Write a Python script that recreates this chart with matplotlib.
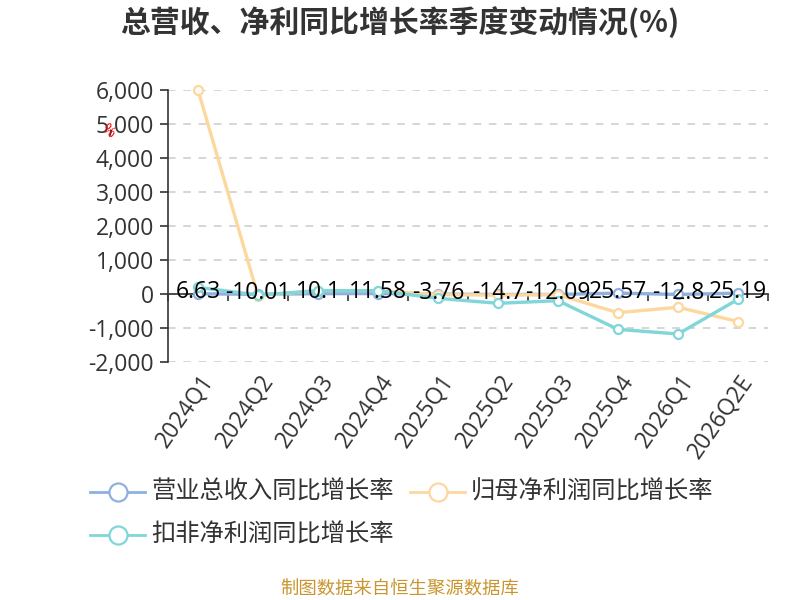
import matplotlib
matplotlib.use('Agg')
import matplotlib.pyplot as plt
from matplotlib.lines import Line2D
from matplotlib.ticker import FuncFormatter, FixedLocator
import matplotlib.transforms as mtransforms

plt.rcParams['font.family'] = ['Noto Sans CJK SC', 'DejaVu Sans']
plt.rcParams['axes.unicode_minus'] = False
NUM_FONT = ['Open Sans', 'DejaVu Sans']

quarters = ['2024Q1', '2024Q2', '2024Q3', '2024Q4', '2025Q1',
            '2025Q2', '2025Q3', '2025Q4', '2026Q1', '2026Q2E']
revenue = [6.63, -10.01, 10.1, 11.58, -3.76, -14.7, -12.09, 25.57, -12.8, 25.19]
net_profit = [6000, -50, 100, 100, -20, -30, -20, -550, -390, -810]
deducted_profit = [197, -30, 97, 97, -127, -274, -197, -1040, -1176, -157]
rev_labels = ['6.63', '-10.01', '10.1', '11.58', '-3.76', '-14.7', '-12.09', '25.57', '-12.8', '25.19']

names = ['营业总收入同比增长率', '归母净利润同比增长率', '扣非净利润同比增长率']
colors = ['#8fb0e0', '#fdd89e', '#80d6d8']

fig = plt.figure(figsize=(8, 6), dpi=100)
ax = fig.add_axes([0.21, 1 - 362 / 600, 0.75, 272 / 600])

x = list(range(len(quarters)))
for vals, c in zip([revenue, net_profit, deducted_profit], colors):
    ax.plot(x, vals, color=c, lw=2.4, marker='o', markersize=6.5,
            markerfacecolor='white', markeredgecolor=c, markeredgewidth=1.6,
            zorder=3, clip_on=False)

# 数据标签
for i, lab in enumerate(rev_labels):
    ax.annotate(lab, (x[i], revenue[i]), xytext=(0, 1), textcoords='offset points',
                ha='center', va='center', fontsize=16.5, color='black', zorder=5,
                family=NUM_FONT)

ax.set_xlim(-0.5, len(quarters) - 0.5)
ax.set_ylim(-2000, 6000)
ax.yaxis.set_major_locator(FixedLocator(range(-2000, 6001, 1000)))
ax.yaxis.set_major_formatter(FuncFormatter(lambda v, p: f'{int(v):,}'))
ax.grid(axis='y', color='#cccccc', ls=(0, (5, 5)), lw=1.1)
ax.set_axisbelow(True)

for s in ['top', 'right']:
    ax.spines[s].set_visible(False)
ax.spines['left'].set_color('#333333')
ax.spines['left'].set_linewidth(1.2)
ax.spines['bottom'].set_position(('data', 0))
ax.spines['bottom'].set_color('#333333')
ax.spines['bottom'].set_linewidth(1.2)
ax.tick_params(axis='y', length=6, width=1.2, color='#333333', labelsize=16.5,
               labelcolor='#333333', pad=4)
for t in ax.get_yticklabels():
    t.set_family(NUM_FONT)
ax.set_xticks([i - 0.5 for i in range(len(quarters) + 1)])
ax.set_xticklabels([])
ax.tick_params(axis='x', length=5, width=1.2, color='#333333', direction='out')

# x轴标签放在底部
trans = mtransforms.blended_transform_factory(ax.transData, ax.transAxes)
for i, q in enumerate(quarters):
    ax.text(i + 0.02, -0.03, q, transform=trans, rotation=55, ha='right', va='top',
            rotation_mode='anchor', fontsize=16.5, color='#333333', family=NUM_FONT)

ax.text(-0.1, 0.85, '%', transform=ax.transAxes, color='red', fontsize=10,
        rotation=-40, ha='center', va='center')

fig.text(0.5, 1 - 22 / 600, '总营收、净利同比增长率季度变动情况(%)', ha='center', va='center',
         fontsize=21.5, fontweight='bold', color='#333333')

# 图例
leg_pos = [(90, 492), (410, 492), (90, 535)]
for (px, py), c, n in zip(leg_pos, colors, names):
    fx0, fx1, fy = px / 800, (px + 55) / 800, 1 - py / 600
    fig.add_artist(Line2D([fx0, fx1], [fy, fy], color=c, lw=2,
                          transform=fig.transFigure))
    fig.add_artist(Line2D([(fx0 + fx1) / 2], [fy], marker='o', markersize=13,
                          markerfacecolor='white', markeredgecolor=c,
                          markeredgewidth=1.6, transform=fig.transFigure))
    fig.text((px + 61) / 800, fy, n, ha='left', va='center', fontsize=17.5, color='#333333')

fig.text(0.5, 1 - 590 / 600, '制图数据来自恒生聚源数据库', ha='center', va='center',
         fontsize=13.2, color='#c9952e')

fig.savefig('out.png', dpi=100)
